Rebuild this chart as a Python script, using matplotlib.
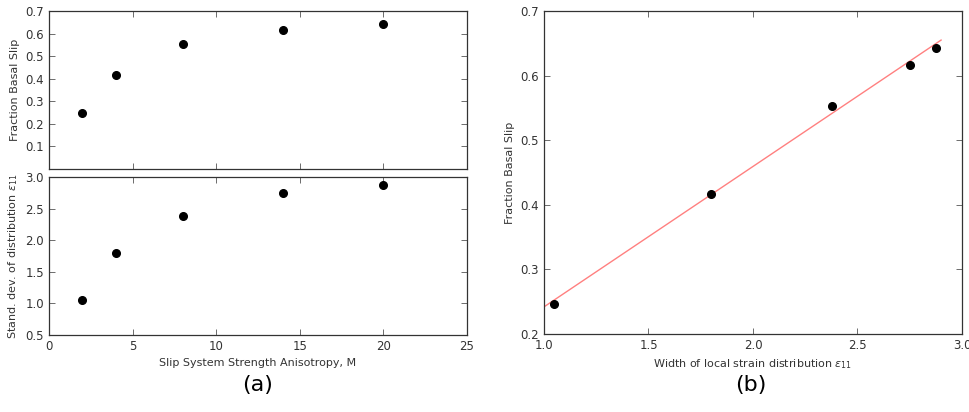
import numpy as np
import matplotlib
matplotlib.use("Agg")
import matplotlib.pyplot as plt

# data
anisotropy = [2, 4, 8, 14, 20]
frac_basal = [0.247, 0.416, 0.553, 0.617, 0.643]
strain_std = [1.05, 1.80, 2.38, 2.75, 2.875]
fit_x = [1.0, 2.9]
fit_y = [0.242, 0.655]

plt.rcParams['font.family'] = 'DejaVu Sans'
plt.rcParams['text.color'] = '#333333'
plt.rcParams['axes.labelcolor'] = '#333333'
plt.rcParams['xtick.color'] = '#333333'
plt.rcParams['ytick.color'] = '#333333'
plt.rcParams['axes.edgecolor'] = '#333333'

fig = plt.figure(figsize=(9.7, 4.12), dpi=100)
W, H = 970, 412

def box(l, t, r, b):
    return [l / W, 1 - b / H, (r - l) / W, (b - t) / H]

ax1 = fig.add_axes(box(49, 11, 467, 169))
ax2 = fig.add_axes(box(49, 177, 467, 335))
ax3 = fig.add_axes(box(544, 11, 962, 334))

def style(ax):
    ax.tick_params(direction='in', top=True, right=True, labelsize=8.5,
                   length=4, width=0.6, color='#555555')
    for s in ax.spines.values():
        s.set_linewidth(0.9)

ax1.plot(anisotropy, frac_basal, 'ko', ms=5.5)
ax1.set_xlim(0, 25)
ax1.set_ylim(0, 0.7)
ax1.set_yticks([0.1, 0.2, 0.3, 0.4, 0.5, 0.6, 0.7])
ax1.set_xticks([0, 5, 10, 15, 20, 25])
ax1.tick_params(labelbottom=False)
ax1.set_ylabel('Fraction Basal Slip', fontsize=8)
style(ax1)

ax2.plot(anisotropy, strain_std, 'ko', ms=5.5)
ax2.set_xlim(0, 25)
ax2.set_ylim(0.5, 3.0)
ax2.set_yticks([0.5, 1.0, 1.5, 2.0, 2.5, 3.0])
ax2.set_xticks([0, 5, 10, 15, 20, 25])
ax2.set_ylabel(r'Stand. dev. of distribution $\varepsilon_{11}$', fontsize=8)
ax2.set_xlabel('Slip System Strength Anisotropy, M', fontsize=8)
style(ax2)

ax3.plot(fit_x, fit_y, '-', color='#ff8080', lw=1)
ax3.plot(strain_std, frac_basal, 'ko', ms=5.5)
ax3.set_xlim(1.0, 3.0)
ax3.set_ylim(0.2, 0.7)
ax3.set_xticks([1.0, 1.5, 2.0, 2.5, 3.0])
ax3.set_yticks([0.2, 0.3, 0.4, 0.5, 0.6, 0.7])
ax3.set_ylabel('Fraction Basal Slip', fontsize=8)
ax3.set_xlabel(r'Width of local strain distribution $\varepsilon_{11}$', fontsize=8)
style(ax3)

fig.text(258 / W, 1 - 385 / H, '(a)', fontsize=16, ha='center', va='center', color='black')
fig.text(751 / W, 1 - 385 / H, '(b)', fontsize=16, ha='center', va='center', color='black')

fig.savefig('out.png', dpi=100)
